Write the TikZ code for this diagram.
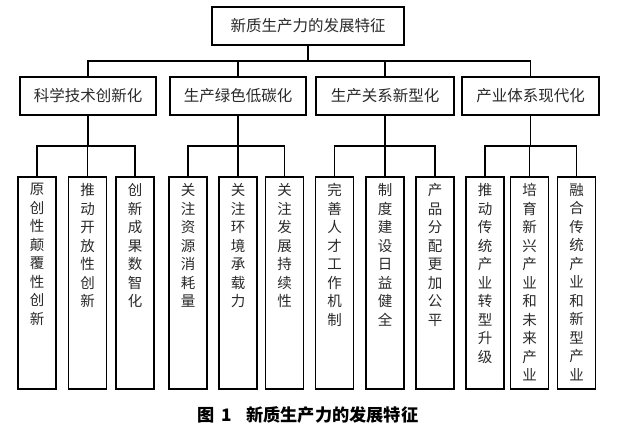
\documentclass[tikz,border=0pt]{standalone}
\usepackage{fontspec}
\newfontfamily\cjk{Noto Sans CJK SC}
\definecolor{txt}{HTML}{2A2A2A}
\newcommand\myleaf[3]{%
  \node[leafbox] (#1) at (#2,283) {};
  \node[leaftext, anchor=north] (#1t) at ([yshift=-7pt]#1.north) {#3};
}
\begin{document}
\begin{tikzpicture}[x=1pt,y=-1pt,
  box/.style={draw=black, line width=1.6pt, inner sep=0pt, text=txt,
    font=\cjk\fontsize{15.5}{18}\selectfont, minimum height=38pt},
  leafbox/.style={draw=black, line width=1.6pt, inner sep=0pt,
    minimum width=38pt, minimum height=212pt},
  leaftext/.style={inner sep=0pt, align=center, text=txt,
    font=\cjk\fontsize{14.5}{18.5}\selectfont},
  conn/.style={draw=black, line width=1.6pt},
  captext/.style={inner sep=0pt, font=\cjk\bfseries\fontsize{17.2}{19}\selectfont, text=black}
]
\useasboundingbox[fill=white] (0,0) rectangle (621,429);

\node[box, minimum width=192pt] (top) at (308,26) {新质生产力的发展特征};

\node[box, minimum width=136pt] (c1) at (88,96) {科学技术创新化};
\node[box, minimum width=136pt] (c2) at (238,96) {生产绿色低碳化};
\node[box, minimum width=138pt] (c3) at (385,96) {生产关系新型化};
\node[box, minimum width=137pt] (c4) at (530.5,96) {产业体系现代化};

\coordinate (bus) at (308,61);
\draw[conn] (top.south) -- (bus);
\draw[conn] (bus) -| (c1.north);
\draw[conn] (bus) -| (c2.north);
\draw[conn] (bus) -| (c3.north);
\draw[conn] (bus) -| (c4.north);

\myleaf{l1}{37}{原\\创\\性\\颠\\覆\\性\\创\\新}
\myleaf{l2}{87.5}{推\\动\\开\\放\\性\\创\\新}
\myleaf{l3}{135}{创\\新\\成\\果\\数\\智\\化}
\myleaf{l4}{188}{关\\注\\资\\源\\消\\耗\\量}
\myleaf{l5}{238}{关\\注\\环\\境\\承\\载\\力}
\myleaf{l6}{284.5}{关\\注\\发\\展\\持\\续\\性}
\myleaf{l7}{334.5}{完\\善\\人\\才\\工\\作\\机\\制}
\myleaf{l8}{385}{制\\度\\建\\设\\日\\益\\健\\全}
\myleaf{l9}{435}{产\\品\\分\\配\\更\\加\\公\\平}
\myleaf{l10}{485}{推\\动\\传\\统\\产\\业\\转\\型\\升\\级}
\myleaf{l11}{529.5}{培\\育\\新\\兴\\产\\业\\和\\未\\来\\产\\业}
\myleaf{l12}{576.5}{融\\合\\传\\统\\产\\业\\和\\新\\型\\产\\业}

\coordinate (g1) at (88,146);
\coordinate (g2) at (238,146);
\coordinate (g3) at (385,146);
\coordinate (g4) at (530.5,146);
\draw[conn] (c1.south) -- (g1);
\draw[conn] (c2.south) -- (g2);
\draw[conn] (c3.south) -- (g3);
\draw[conn] (c4.south) -- (g4);
\draw[conn] (g1) -| (l1.north);
\draw[conn] (g1) -| (l2.north);
\draw[conn] (g1) -| (l3.north);
\draw[conn] (g2) -| (l4.north);
\draw[conn] (g2) -| (l5.north);
\draw[conn] (g2) -| (l6.north);
\draw[conn] (g3) -| (l7.north);
\draw[conn] (g3) -| (l8.north);
\draw[conn] (g3) -| (l9.north);
\draw[conn] (g4) -| (l10.north);
\draw[conn] (g4) -| (l11.north);
\draw[conn] (g4) -| (l12.north);

\node[captext, anchor=west] (capnum) at (197,415) {图\hspace{7pt}1};
\node[captext, anchor=west] (captitle) at (246,415) {新质生产力的发展特征};
\end{tikzpicture}
\end{document}
